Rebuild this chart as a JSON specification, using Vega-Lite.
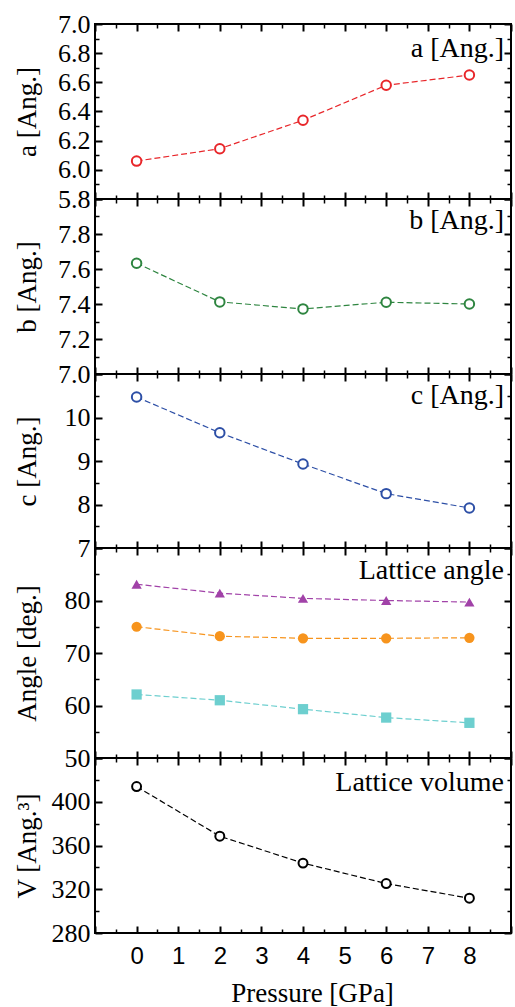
{
  "$schema": "https://vega.github.io/schema/vega-lite/v6.json",
  "padding": {"left": 11, "top": 10, "right": 2, "bottom": 0},
  "spacing": 0,
  "bounds": "flush",
  "config": {
    "view": {"stroke": "black", "strokeWidth": 2},
    "axis": {"domain": false, "grid": false, "tickColor": "black", "tickWidth": 2, "labelColor": "black", "labelFont": "Liberation Serif", "labelFontSize": 26, "labelFlush": false, "labelOverlap": false, "titleColor": "black", "titleFont": "Liberation Serif", "titleFontSize": 27, "titleFontWeight": "normal"},
    "title": {"font": "Liberation Serif", "fontSize": 28, "fontWeight": "normal", "color": "black", "anchor": "end", "frame": "group", "baseline": "alphabetic", "offset": -52, "dx": -7}
  },
  "datasets": {
    "lattice": [
      {"P": 0, "param": "a", "value": 6.06},
      {"P": 2, "param": "a", "value": 6.145},
      {"P": 4, "param": "a", "value": 6.34},
      {"P": 6, "param": "a", "value": 6.58},
      {"P": 8, "param": "a", "value": 6.65},
      {"P": 0, "param": "b", "value": 7.633},
      {"P": 2, "param": "b", "value": 7.412},
      {"P": 4, "param": "b", "value": 7.372},
      {"P": 6, "param": "b", "value": 7.41},
      {"P": 8, "param": "b", "value": 7.40},
      {"P": 0, "param": "c", "value": 10.47},
      {"P": 2, "param": "c", "value": 9.65},
      {"P": 4, "param": "c", "value": 8.93},
      {"P": 6, "param": "c", "value": 8.25},
      {"P": 8, "param": "c", "value": 7.92},
      {"P": 0, "param": "alpha", "value": 83.1},
      {"P": 2, "param": "alpha", "value": 81.4},
      {"P": 4, "param": "alpha", "value": 80.4},
      {"P": 6, "param": "alpha", "value": 80.0},
      {"P": 8, "param": "alpha", "value": 79.7},
      {"P": 0, "param": "beta", "value": 75.0},
      {"P": 2, "param": "beta", "value": 73.2},
      {"P": 4, "param": "beta", "value": 72.8},
      {"P": 6, "param": "beta", "value": 72.8},
      {"P": 8, "param": "beta", "value": 72.9},
      {"P": 0, "param": "gamma", "value": 62.1},
      {"P": 2, "param": "gamma", "value": 61.0},
      {"P": 4, "param": "gamma", "value": 59.3},
      {"P": 6, "param": "gamma", "value": 57.7},
      {"P": 8, "param": "gamma", "value": 56.7},
      {"P": 0, "param": "V", "value": 413.9},
      {"P": 2, "param": "V", "value": 368.5},
      {"P": 4, "param": "V", "value": 343.9},
      {"P": 6, "param": "V", "value": 325.2},
      {"P": 8, "param": "V", "value": 311.8}
    ]
  },
  "vconcat": [
    {
      "width": 416, "height": 175,
      "title": {"text": "a [Ang.]"},
      "data": {"name": "lattice"},
      "transform": [{"filter": "datum.param === 'a'"}],
      "layer": [
        {"mark": {"type": "line", "stroke": "#e8262a", "strokeWidth": 1.2, "strokeDash": [6, 3]},
         "encoding": {
           "x": {"field": "P", "type": "quantitative", "scale": {"domain": [-1, 9], "nice": false, "zero": false},
                 "axis": {"orient": "bottom", "values": [-1,0,1,2,3,4,5,6,7,8,9], "labels": false, "title": null, "tickSize": -7}},
           "y": {"field": "value", "type": "quantitative", "scale": {"domain": [5.8, 7.0], "nice": false, "zero": false},
                 "axis": {"orient": "left", "values": [5.8,6.0,6.2,6.4,6.6,6.8,7.0], "format": ".1f", "tickSize": -7, "labelPadding": 12, "title": "a [Ang.]", "titleX": -68, "titleBaseline": "middle"}}
         }},
        {"mark": {"type": "point", "shape": "circle", "size": 90, "strokeWidth": 2, "stroke": "#e8262a", "fill": "white", "filled": false, "opacity": 1},
         "encoding": {
           "x": {"field": "P", "type": "quantitative", "scale": {"domain": [-1, 9], "nice": false, "zero": false},
                 "axis": {"orient": "top", "values": [-1,0,1,2,3,4,5,6,7,8,9], "labels": false, "title": null, "tickSize": -7}},
           "y": {"field": "value", "type": "quantitative", "scale": {"domain": [5.8, 7.0], "nice": false, "zero": false},
                 "axis": {"orient": "right", "values": [5.8,6.0,6.2,6.4,6.6,6.8,7.0], "labels": false, "title": null, "tickSize": -7}}
         }},
        {"mark": {"type": "point", "opacity": 0},
         "encoding": {
           "x": {"field": "P", "type": "quantitative", "scale": {"domain": [-1, 9], "nice": false, "zero": false},
                 "axis": {"orient": "bottom", "values": [-0.5,0.5,1.5,2.5,3.5,4.5,5.5,6.5,7.5,8.5], "labels": false, "title": null, "tickSize": -4, "tickWidth": 1.5}},
           "y": {"field": "value", "type": "quantitative", "scale": {"domain": [5.8, 7.0], "nice": false, "zero": false},
                 "axis": {"orient": "left", "values": [5.9,6.1,6.3,6.5,6.7,6.9], "labels": false, "title": null, "tickSize": -4, "tickWidth": 1.5}}
         }},
        {"mark": {"type": "point", "opacity": 0},
         "encoding": {
           "x": {"field": "P", "type": "quantitative", "scale": {"domain": [-1, 9], "nice": false, "zero": false},
                 "axis": {"orient": "top", "values": [-0.5,0.5,1.5,2.5,3.5,4.5,5.5,6.5,7.5,8.5], "labels": false, "title": null, "tickSize": -4, "tickWidth": 1.5}},
           "y": {"field": "value", "type": "quantitative", "scale": {"domain": [5.8, 7.0], "nice": false, "zero": false},
                 "axis": {"orient": "right", "values": [5.9,6.1,6.3,6.5,6.7,6.9], "labels": false, "title": null, "tickSize": -4, "tickWidth": 1.5}}
         }}
      ],
      "resolve": {"axis": {"x": "independent", "y": "independent"}}
    },
    {
      "width": 416, "height": 175,
      "title": {"text": "b [Ang.]", "offset": -49},
      "data": {"name": "lattice"},
      "transform": [{"filter": "datum.param === 'b'"}],
      "layer": [
        {"mark": {"type": "line", "stroke": "#2e8540", "strokeWidth": 1.2, "strokeDash": [6, 3]},
         "encoding": {
           "x": {"field": "P", "type": "quantitative", "scale": {"domain": [-1, 9], "nice": false, "zero": false},
                 "axis": {"orient": "bottom", "values": [-1,0,1,2,3,4,5,6,7,8,9], "labels": false, "title": null, "tickSize": -7}},
           "y": {"field": "value", "type": "quantitative", "scale": {"domain": [7.0, 8.0], "nice": false, "zero": false},
                 "axis": {"orient": "left", "values": [7.0,7.2,7.4,7.6,7.8,8.0], "format": ".1f", "labelExpr": "datum.value > 7.9 ? '' : datum.label", "tickSize": -7, "labelPadding": 12, "title": "b [Ang.]", "titleX": -68, "titleBaseline": "middle"}}
         }},
        {"mark": {"type": "point", "shape": "circle", "size": 90, "strokeWidth": 2, "stroke": "#2e8540", "fill": "white", "filled": false, "opacity": 1},
         "encoding": {
           "x": {"field": "P", "type": "quantitative", "scale": {"domain": [-1, 9], "nice": false, "zero": false},
                 "axis": {"orient": "top", "values": [-1,0,1,2,3,4,5,6,7,8,9], "labels": false, "title": null, "tickSize": -7}},
           "y": {"field": "value", "type": "quantitative", "scale": {"domain": [7.0, 8.0], "nice": false, "zero": false},
                 "axis": {"orient": "right", "values": [7.0,7.2,7.4,7.6,7.8,8.0], "labels": false, "title": null, "tickSize": -7}}
         }},
        {"mark": {"type": "point", "opacity": 0},
         "encoding": {
           "x": {"field": "P", "type": "quantitative", "scale": {"domain": [-1, 9], "nice": false, "zero": false},
                 "axis": {"orient": "bottom", "values": [-0.5,0.5,1.5,2.5,3.5,4.5,5.5,6.5,7.5,8.5], "labels": false, "title": null, "tickSize": -4, "tickWidth": 1.5}},
           "y": {"field": "value", "type": "quantitative", "scale": {"domain": [7.0, 8.0], "nice": false, "zero": false},
                 "axis": {"orient": "left", "values": [7.1,7.3,7.5,7.7,7.9], "labels": false, "title": null, "tickSize": -4, "tickWidth": 1.5}}
         }},
        {"mark": {"type": "point", "opacity": 0},
         "encoding": {
           "x": {"field": "P", "type": "quantitative", "scale": {"domain": [-1, 9], "nice": false, "zero": false},
                 "axis": {"orient": "top", "values": [-0.5,0.5,1.5,2.5,3.5,4.5,5.5,6.5,7.5,8.5], "labels": false, "title": null, "tickSize": -4, "tickWidth": 1.5}},
           "y": {"field": "value", "type": "quantitative", "scale": {"domain": [7.0, 8.0], "nice": false, "zero": false},
                 "axis": {"orient": "right", "values": [7.1,7.3,7.5,7.7,7.9], "labels": false, "title": null, "tickSize": -4, "tickWidth": 1.5}}
         }}
      ],
      "resolve": {"axis": {"x": "independent", "y": "independent"}}
    },
    {
      "width": 416, "height": 174,
      "title": {"text": "c [Ang.]", "offset": -49},
      "data": {"name": "lattice"},
      "transform": [{"filter": "datum.param === 'c'"}],
      "layer": [
        {"mark": {"type": "line", "stroke": "#2d4fa6", "strokeWidth": 1.2, "strokeDash": [6, 3]},
         "encoding": {
           "x": {"field": "P", "type": "quantitative", "scale": {"domain": [-1, 9], "nice": false, "zero": false},
                 "axis": {"orient": "bottom", "values": [-1,0,1,2,3,4,5,6,7,8,9], "labels": false, "title": null, "tickSize": -7}},
           "y": {"field": "value", "type": "quantitative", "scale": {"domain": [7, 11], "nice": false, "zero": false},
                 "axis": {"orient": "left", "values": [7,8,9,10,11], "format": "d", "labelExpr": "datum.value > 10.5 ? '' : datum.label", "tickSize": -7, "labelPadding": 12, "title": "c [Ang.]", "titleX": -68, "titleBaseline": "middle"}}
         }},
        {"mark": {"type": "point", "shape": "circle", "size": 90, "strokeWidth": 2, "stroke": "#2d4fa6", "fill": "white", "filled": false, "opacity": 1},
         "encoding": {
           "x": {"field": "P", "type": "quantitative", "scale": {"domain": [-1, 9], "nice": false, "zero": false},
                 "axis": {"orient": "top", "values": [-1,0,1,2,3,4,5,6,7,8,9], "labels": false, "title": null, "tickSize": -7}},
           "y": {"field": "value", "type": "quantitative", "scale": {"domain": [7, 11], "nice": false, "zero": false},
                 "axis": {"orient": "right", "values": [7,8,9,10,11], "labels": false, "title": null, "tickSize": -7}}
         }},
        {"mark": {"type": "point", "opacity": 0},
         "encoding": {
           "x": {"field": "P", "type": "quantitative", "scale": {"domain": [-1, 9], "nice": false, "zero": false},
                 "axis": {"orient": "bottom", "values": [-0.5,0.5,1.5,2.5,3.5,4.5,5.5,6.5,7.5,8.5], "labels": false, "title": null, "tickSize": -4, "tickWidth": 1.5}},
           "y": {"field": "value", "type": "quantitative", "scale": {"domain": [7, 11], "nice": false, "zero": false},
                 "axis": {"orient": "left", "values": [7.5,8.5,9.5,10.5], "labels": false, "title": null, "tickSize": -4, "tickWidth": 1.5}}
         }},
        {"mark": {"type": "point", "opacity": 0},
         "encoding": {
           "x": {"field": "P", "type": "quantitative", "scale": {"domain": [-1, 9], "nice": false, "zero": false},
                 "axis": {"orient": "top", "values": [-0.5,0.5,1.5,2.5,3.5,4.5,5.5,6.5,7.5,8.5], "labels": false, "title": null, "tickSize": -4, "tickWidth": 1.5}},
           "y": {"field": "value", "type": "quantitative", "scale": {"domain": [7, 11], "nice": false, "zero": false},
                 "axis": {"orient": "right", "values": [7.5,8.5,9.5,10.5], "labels": false, "title": null, "tickSize": -4, "tickWidth": 1.5}}
         }}
      ],
      "resolve": {"axis": {"x": "independent", "y": "independent"}}
    },
    {
      "width": 416, "height": 210,
      "title": {"text": "Lattice angle", "offset": -50},
      "data": {"name": "lattice"},
      "transform": [{"filter": "datum.param === 'alpha' || datum.param === 'beta' || datum.param === 'gamma'"}],
      "layer": [
        {"mark": {"type": "line", "strokeWidth": 1.2, "strokeDash": [6, 3]},
         "encoding": {
           "x": {"field": "P", "type": "quantitative", "scale": {"domain": [-1, 9], "nice": false, "zero": false},
                 "axis": {"orient": "bottom", "values": [-1,0,1,2,3,4,5,6,7,8,9], "labels": false, "title": null, "tickSize": -7}},
           "y": {"field": "value", "type": "quantitative", "scale": {"domain": [50, 90], "nice": false, "zero": false},
                 "axis": {"orient": "left", "values": [50,60,70,80,90], "format": "d", "labelExpr": "datum.value > 85 ? '' : datum.label", "tickSize": -7, "labelPadding": 12, "title": "Angle [deg.]", "titleX": -68, "titleBaseline": "middle"}},
           "color": {"field": "param", "type": "nominal", "scale": {"domain": ["alpha", "beta", "gamma"], "range": ["#a142a8", "#f7941d", "#6dcfcf"]}, "legend": null}
         }},
        {"mark": {"type": "point", "filled": true, "opacity": 1, "size": 105},
         "encoding": {
           "x": {"field": "P", "type": "quantitative", "scale": {"domain": [-1, 9], "nice": false, "zero": false},
                 "axis": {"orient": "top", "values": [-1,0,1,2,3,4,5,6,7,8,9], "labels": false, "title": null, "tickSize": -7}},
           "y": {"field": "value", "type": "quantitative", "scale": {"domain": [50, 90], "nice": false, "zero": false},
                 "axis": {"orient": "right", "values": [50,60,70,80,90], "labels": false, "title": null, "tickSize": -7}},
           "color": {"field": "param", "type": "nominal", "scale": {"domain": ["alpha", "beta", "gamma"], "range": ["#a142a8", "#f7941d", "#6dcfcf"]}, "legend": null},
           "shape": {"field": "param", "type": "nominal", "scale": {"domain": ["alpha", "beta", "gamma"], "range": ["triangle-up", "circle", "square"]}, "legend": null}
         }},
        {"mark": {"type": "point", "opacity": 0},
         "encoding": {
           "x": {"field": "P", "type": "quantitative", "scale": {"domain": [-1, 9], "nice": false, "zero": false},
                 "axis": {"orient": "bottom", "values": [-0.5,0.5,1.5,2.5,3.5,4.5,5.5,6.5,7.5,8.5], "labels": false, "title": null, "tickSize": -4, "tickWidth": 1.5}},
           "y": {"field": "value", "type": "quantitative", "scale": {"domain": [50, 90], "nice": false, "zero": false},
                 "axis": {"orient": "left", "values": [55,65,75,85], "labels": false, "title": null, "tickSize": -4, "tickWidth": 1.5}}
         }},
        {"mark": {"type": "point", "opacity": 0},
         "encoding": {
           "x": {"field": "P", "type": "quantitative", "scale": {"domain": [-1, 9], "nice": false, "zero": false},
                 "axis": {"orient": "top", "values": [-0.5,0.5,1.5,2.5,3.5,4.5,5.5,6.5,7.5,8.5], "labels": false, "title": null, "tickSize": -4, "tickWidth": 1.5}},
           "y": {"field": "value", "type": "quantitative", "scale": {"domain": [50, 90], "nice": false, "zero": false},
                 "axis": {"orient": "right", "values": [55,65,75,85], "labels": false, "title": null, "tickSize": -4, "tickWidth": 1.5}}
         }}
      ],
      "resolve": {"axis": {"x": "independent", "y": "independent"}}
    },
    {
      "width": 416, "height": 175,
      "title": {"text": "Lattice volume"},
      "data": {"name": "lattice"},
      "transform": [{"filter": "datum.param === 'V'"}],
      "layer": [
        {"mark": {"type": "line", "stroke": "black", "strokeWidth": 1.2, "strokeDash": [6, 3]},
         "encoding": {
           "x": {"field": "P", "type": "quantitative", "scale": {"domain": [-1, 9], "nice": false, "zero": false},
                 "axis": {"orient": "bottom", "values": [-1,0,1,2,3,4,5,6,7,8,9], "labelExpr": "datum.value < 0 || datum.value > 8.5 ? '' : datum.label", "labelFont": "Liberation Sans", "labelFontSize": 24, "labelPadding": 18, "title": "Pressure [GPa]", "titlePadding": 12, "titleX": 217, "tickSize": -7}},
           "y": {"field": "value", "type": "quantitative", "scale": {"domain": [280, 440], "nice": false, "zero": false},
                 "axis": {"orient": "left", "values": [280,320,360,400,440], "format": "d", "labelExpr": "datum.value > 420 ? '' : datum.label", "tickSize": -7, "labelPadding": 12, "title": "V [Ang.³]", "titleX": -68, "titleBaseline": "middle"}}
         }},
        {"mark": {"type": "point", "shape": "circle", "size": 80, "strokeWidth": 2, "stroke": "black", "fill": "white", "filled": false, "opacity": 1},
         "encoding": {
           "x": {"field": "P", "type": "quantitative", "scale": {"domain": [-1, 9], "nice": false, "zero": false},
                 "axis": {"orient": "top", "values": [-1,0,1,2,3,4,5,6,7,8,9], "labels": false, "title": null, "tickSize": -7}},
           "y": {"field": "value", "type": "quantitative", "scale": {"domain": [280, 440], "nice": false, "zero": false},
                 "axis": {"orient": "right", "values": [280,320,360,400,440], "labels": false, "title": null, "tickSize": -7}}
         }},
        {"mark": {"type": "point", "opacity": 0},
         "encoding": {
           "x": {"field": "P", "type": "quantitative", "scale": {"domain": [-1, 9], "nice": false, "zero": false},
                 "axis": {"orient": "bottom", "values": [-0.5,0.5,1.5,2.5,3.5,4.5,5.5,6.5,7.5,8.5], "labels": false, "title": null, "tickSize": -4, "tickWidth": 1.5}},
           "y": {"field": "value", "type": "quantitative", "scale": {"domain": [280, 440], "nice": false, "zero": false},
                 "axis": {"orient": "left", "values": [300,340,380,420], "labels": false, "title": null, "tickSize": -4, "tickWidth": 1.5}}
         }},
        {"mark": {"type": "point", "opacity": 0},
         "encoding": {
           "x": {"field": "P", "type": "quantitative", "scale": {"domain": [-1, 9], "nice": false, "zero": false},
                 "axis": {"orient": "top", "values": [-0.5,0.5,1.5,2.5,3.5,4.5,5.5,6.5,7.5,8.5], "labels": false, "title": null, "tickSize": -4, "tickWidth": 1.5}},
           "y": {"field": "value", "type": "quantitative", "scale": {"domain": [280, 440], "nice": false, "zero": false},
                 "axis": {"orient": "right", "values": [300,340,380,420], "labels": false, "title": null, "tickSize": -4, "tickWidth": 1.5}}
         }}
      ],
      "resolve": {"axis": {"x": "independent", "y": "independent"}}
    }
  ]
}
